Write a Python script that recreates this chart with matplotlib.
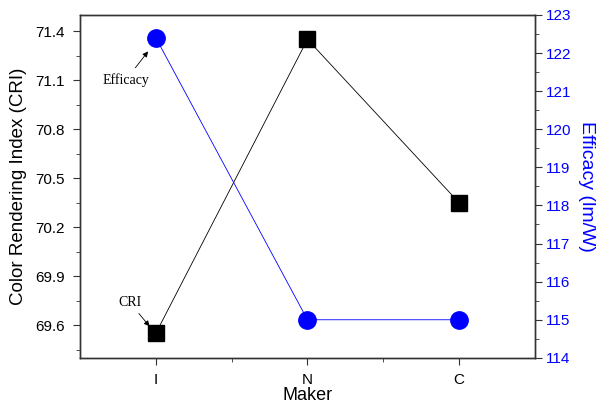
import matplotlib
matplotlib.use("Agg")
import matplotlib.pyplot as plt
from matplotlib.ticker import MultipleLocator, FixedLocator

plt.rcParams['font.family'] = ['Liberation Sans', 'DejaVu Sans']

makers = ["I", "N", "C"]
cri = [69.55, 71.35, 70.35]
efficacy = [122.4, 115.0, 115.0]
cri_ticks = [69.6, 69.9, 70.2, 70.5, 70.8, 71.1, 71.4]

fig = plt.figure(figsize=(5.97, 4.03), dpi=100)
ax = fig.add_axes([0.134, 0.112, 0.762, 0.851])
ax2 = ax.twinx()

x = list(range(len(makers)))
ax.plot(x, cri, color="black", lw=0.6, marker="s", ms=11, zorder=3)
ax2.plot(x, efficacy, color="blue", lw=0.6, marker="o", ms=12.5, zorder=3)

ax.set_xlim(-0.5, 2.5)
ax.set_ylim(69.4, 71.5)
ax2.set_ylim(114, 123)

ax.set_xticks(x)
ax.set_xticklabels(makers)
ax.xaxis.set_minor_locator(FixedLocator([0.5, 1.5]))
ax.yaxis.set_major_locator(FixedLocator(cri_ticks))
ax.yaxis.set_minor_locator(MultipleLocator(0.15))
ax.set_yticklabels(["%.1f" % v for v in cri_ticks])
ax2.yaxis.set_major_locator(MultipleLocator(1))
ax2.yaxis.set_minor_locator(MultipleLocator(0.5))

edge = "#333333"
ax.tick_params(which="both", direction="out", labelsize=11, top=False, right=False, color=edge)
ax.tick_params(which="major", length=5, pad=6)
ax.tick_params(which="minor", length=3)
ax2.tick_params(which="both", direction="out", labelsize=11, labelcolor="blue", color=edge)
ax2.tick_params(which="major", length=5, pad=3)
ax2.tick_params(which="minor", length=3)

for a in (ax, ax2):
    for s in a.spines.values():
        s.set_linewidth(1.0)
        s.set_color(edge)

ax.set_xlabel("Maker", fontsize=13, labelpad=0)
ax.set_ylabel("Color Rendering Index (CRI)", fontsize=13.5, labelpad=6)
ax2.set_ylabel("Efficacy (lm/W)", fontsize=14, color="blue", rotation=270, labelpad=17)

serif = ['Liberation Serif', 'DejaVu Serif']
ax2.annotate("Efficacy", xy=(-0.04, 122.1), xytext=(-0.35, 121.2),
             fontsize=10, family=serif,
             arrowprops=dict(arrowstyle="-|>", color="black", lw=0.6, mutation_scale=8))
ax.annotate("CRI", xy=(-0.03, 69.58), xytext=(-0.25, 69.72),
            fontsize=10, family=serif,
            arrowprops=dict(arrowstyle="-|>", color="black", lw=0.6, mutation_scale=8))

fig.savefig("out.png", dpi=100)
